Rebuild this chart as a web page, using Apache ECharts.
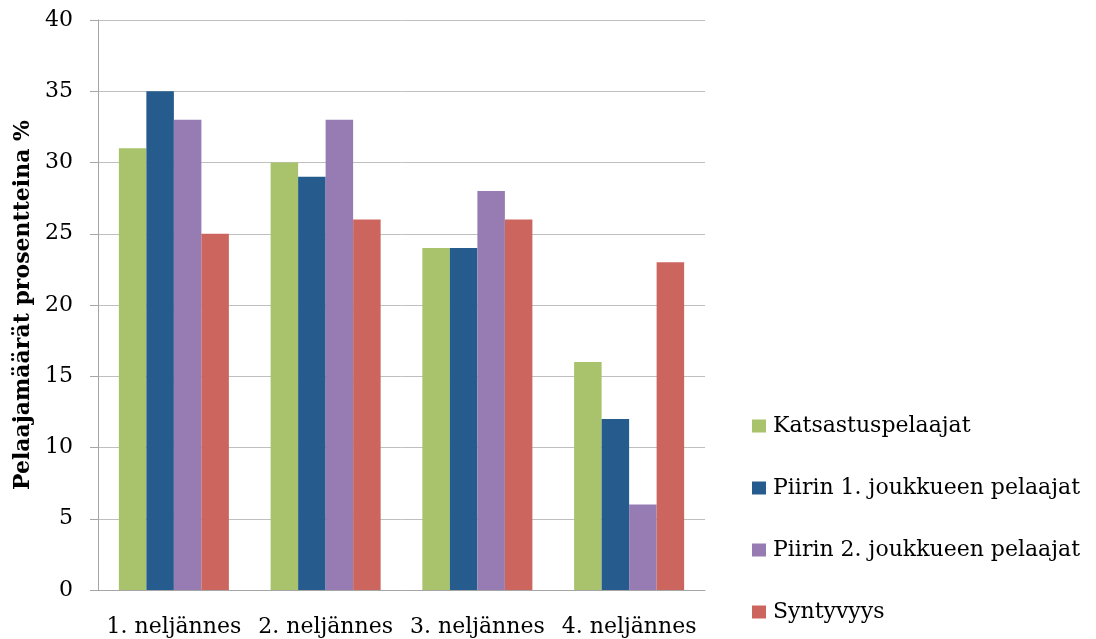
<!DOCTYPE html>
<html>
<head>
<meta charset="utf-8">
<script src="https://cdn.jsdelivr.net/npm/echarts@6/dist/echarts.min.js"></script>
<style>
html,body{margin:0;padding:0;background:#fff;}
#chart{width:1096px;height:639px;}
</style>
</head>
<body>
<div id="chart"></div>
<script>
const categories = ['1. neljännes', '2. neljännes', '3. neljännes', '4. neljännes'];
const seriesNames = ['Katsastuspelaajat', 'Piirin 1. joukkueen pelaajat', 'Piirin 2. joukkueen pelaajat', 'Syntyvyys'];
const katsastus = [31, 30, 24, 16];
const piiri1 = [35, 29, 24, 12];
const piiri2 = [33, 33, 28, 6];
const syntyvyys = [25, 26, 26, 23];
const colors = ['#A8C36B', '#265B8E', '#967CB3', '#CD655F'];
const yAxisTitle = 'Pelaajamäärät prosentteina %';

const FONT = 'DejaVu Serif';
const chart = echarts.init(document.getElementById('chart'));
const allData = [katsastus, piiri1, piiri2, syntyvyys];
chart.setOption({
  animation: false,
  color: colors,
  textStyle: {fontFamily: FONT},
  grid: {left: 98, right: 391, top: 20, bottom: 49, containLabel: false},
  legend: {
    orient: 'vertical',
    left: 752,
    top: 415,
    padding: 0,
    itemWidth: 14,
    itemHeight: 13,
    itemGap: 40,
    icon: 'rect',
    textStyle: {fontFamily: FONT, fontSize: 22, color: '#000', lineHeight: 22, padding: [0, 0, 0, 2]},
    data: seriesNames
  },
  xAxis: {
    type: 'category',
    data: categories,
    axisLine: {lineStyle: {color: '#A6A6A6', width: 1}},
    axisTick: {show: false},
    axisLabel: {color: '#000', fontSize: 22, fontFamily: FONT, margin: 26, interval: 0, hideOverlap: false}
  },
  yAxis: {
    type: 'value',
    min: 0, max: 40, interval: 5,
    name: yAxisTitle,
    nameLocation: 'middle',
    nameGap: 63,
    nameTextStyle: {fontFamily: FONT, fontSize: 22, fontWeight: 'bold', color: '#000'},
    axisLine: {show: true, lineStyle: {color: '#A6A6A6', width: 1}},
    axisTick: {show: true, length: 8, lineStyle: {color: '#A6A6A6'}},
    axisLabel: {color: '#000', fontSize: 22, fontFamily: FONT, margin: 25},
    splitLine: {lineStyle: {color: '#BFBFBF', width: 1}}
  },
  series: seriesNames.map((n, i) => ({
    name: n,
    type: 'bar',
    data: allData[i],
    barGap: '0%',
    barCategoryGap: '27.5%',
    itemStyle: {color: colors[i]}
  }))
});
</script>
</body>
</html>
